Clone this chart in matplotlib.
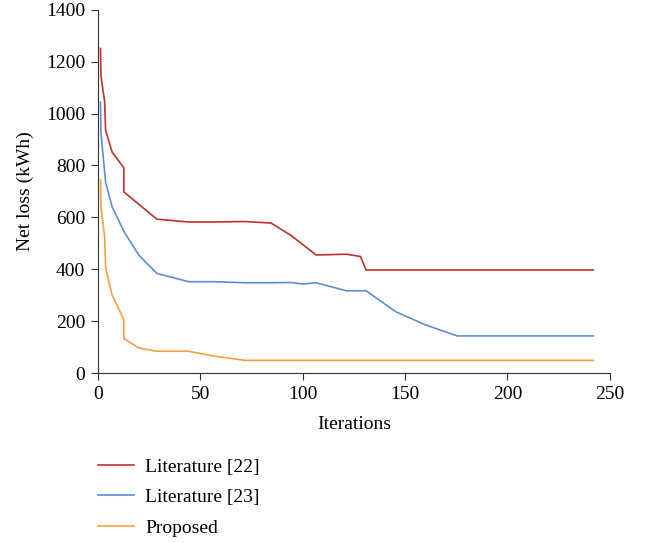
import matplotlib
matplotlib.use("Agg")
import matplotlib.pyplot as plt

plt.rcParams['font.family'] = ['Liberation Serif', 'DejaVu Serif']
plt.rcParams['font.size'] = 14

# data
lit22_x = [1.3, 1.5, 3.3, 3.8, 7, 12.7, 12.7, 28.8, 44.3, 57, 71.6, 84.6, 94.4, 106.6, 121.3, 128.3, 131, 242]
lit22_y = [1251, 1145, 1048, 935, 851, 791, 698, 593, 582, 582, 584, 578, 530, 455, 458, 449, 397, 397]

lit23_x = [1.3, 1.5, 3.8, 7, 12.7, 20, 28.8, 44.3, 57, 71.6, 84.6, 94.4, 100.1, 106.6, 121.3, 131, 145.6, 159.5, 175.5, 242]
lit23_y = [1044, 926, 735, 640, 546, 455, 384, 352, 352, 348, 348, 349, 343, 348, 317, 317, 236, 187, 143, 143]

prop_x = [1.3, 1.5, 3.3, 3.8, 7, 12.7, 12.7, 20, 28.8, 44.3, 57, 71.6, 242]
prop_y = [745, 642, 526, 404, 300, 206, 133, 97, 84, 84, 65, 49, 49]

labels = ["Literature [22]", "Literature [23]", "Proposed"]
colors = ["#c4302b", "#5b8ed6", "#f7a040"]

fig = plt.figure(figsize=(6.48, 5.43), dpi=100)
ax = fig.add_axes([0.151, 0.313, 0.790, 0.669])

for xs, ys, lab, c in zip([lit22_x, lit23_x, prop_x], [lit22_y, lit23_y, prop_y], labels, colors):
    ax.plot(xs, ys, color=c, lw=1.2, label=lab)

ax.set_xlim(0, 250)
ax.set_ylim(0, 1400)
ax.set_xticks(range(0, 251, 50))
ax.set_yticks(range(0, 1401, 200))
ax.set_xlabel("Iterations", labelpad=10)
ax.set_ylabel("Net loss (kWh)", labelpad=9)
for s in ["top", "right"]:
    ax.spines[s].set_visible(False)
for s in ["left", "bottom"]:
    ax.spines[s].set_color("#333333")
ax.tick_params(direction="out", length=5, color="#333333", pad=4)

fig.legend(loc="upper left", bbox_to_anchor=(0.124, 0.188), frameon=False,
           handlelength=1.85, handletextpad=0.6, labelspacing=0.65, fontsize=14)

fig.savefig("out.png", dpi=100)
